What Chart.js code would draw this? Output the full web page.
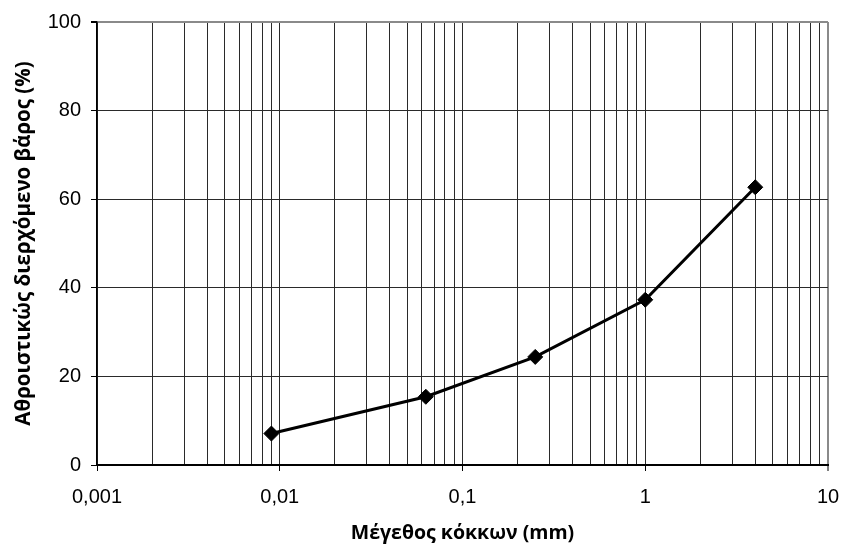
<!DOCTYPE html>
<html lang="el">
<head>
<meta charset="utf-8">
<title>Κοκκομετρική καμπύλη</title>
<script src="https://cdn.jsdelivr.net/npm/chart.js@4/dist/chart.umd.min.js"></script>
<style>
  html, body { margin: 0; padding: 0; background: #fff; }
  #chart-granulo { display: block; }
</style>
</head>
<body>
<canvas id="chart-granulo" width="844" height="549"></canvas>
<script>
// diámetros de los tamices (mm) y % que pasa acumulado
const diametros = [0.009, 0.063, 0.25, 1, 4];
const porcentajes = [7.1, 15.4, 24.4, 37.3, 62.7];

// marcas del eje x (escala log) y sus textos
const decadas = [0.001, 0.01, 0.1, 1, 10];
const etiquetasX = ["0,001", "0,01", "0,1", "1", "10"];
const ticksY = [0, 20, 40, 60, 80, 100];

const tituloX = "Μέγεθος κόκκων (mm)";
const tituloY = "Αθροιστικώς διερχόμενο βάρος (%)";

var granuloInstance;

document.addEventListener("DOMContentLoaded", function () {
  chartGranulo();
});

function esDecada(valor) {
  return decadas.findIndex((d) => Math.abs(d - valor) / d < 1e-9);
}

// lineas menores 1..9 de cada decada
function ticksLog() {
  const lista = [];
  for (let i = 0; i < decadas.length - 1; i++) {
    for (let m = 1; m <= 9; m++) {
      lista.push({ value: decadas[i] * m });
    }
  }
  lista.push({ value: decadas[decadas.length - 1] });
  return lista;
}

function chartGranulo() {
  const ctx = document.getElementById("chart-granulo").getContext("2d");
  if (granuloInstance) {
    granuloInstance.destroy();
  }
  const fuente = "'Liberation Sans', Arial, sans-serif";
  const fuenteTitulo = "'Open Sans', 'Noto Sans', sans-serif";
  granuloInstance = new Chart(ctx, {
    type: "line",
    data: {
      datasets: [
        {
          data: diametros.map((d, i) => ({ x: d, y: porcentajes[i] })),
          borderColor: "#000",
          borderWidth: 3,
          backgroundColor: "#000",
          pointStyle: "rectRot",
          pointRadius: 7.5,
          pointBorderWidth: 1,
          pointBackgroundColor: "#000",
          pointBorderColor: "#000",
          tension: 0,
        },
      ],
    },
    options: {
      responsive: false,
      animation: false,
      devicePixelRatio: 1,
      layout: { padding: { left: 0, right: 16, top: 21, bottom: 0 } },
      plugins: {
        legend: { display: false },
        tooltip: { enabled: false },
      },
      scales: {
        x: {
          type: "logarithmic",
          min: 0.001,
          max: 10,
          afterBuildTicks: (scale) => {
            scale.ticks = ticksLog();
          },
          afterFit: (scale) => {
            scale.height = 84;
            // el margen lo da layout.padding
            scale.paddingLeft = 0;
            scale.paddingRight = 0;
          },
          ticks: {
            autoSkip: false,
            maxRotation: 0,
            padding: 14,
            color: "#000",
            font: { family: fuente, size: 20 },
            callback: (valor) => {
              const i = esDecada(valor);
              return i >= 0 ? etiquetasX[i] : "";
            },
          },
          grid: {
            color: (c) => (c.tick && c.tick.value === 10 ? "#8a8a8a" : "#2a2a2a"),
            lineWidth: (c) => (c.tick && c.tick.value === 10 ? 2 : 1),
            tickLength: 6,
            tickColor: (c) => (c.tick && esDecada(c.tick.value) >= 0 ? "#000" : "rgba(0,0,0,0)"),
            tickWidth: 1,
          },
          border: { color: "#000", width: 2 },
          title: {
            display: true,
            text: tituloX,
            color: "#000",
            font: { family: fuenteTitulo, size: 19.5, weight: "bold" },
            padding: { top: 3, bottom: 4 },
          },
        },
        y: {
          min: 0,
          max: 100,
          afterBuildTicks: (scale) => {
            scale.ticks = ticksY.map((v) => ({ value: v }));
          },
          afterFit: (scale) => {
            scale.width = 97;
          },
          ticks: {
            padding: 10,
            color: "#000",
            font: { family: fuente, size: 20 },
          },
          grid: {
            color: (c) => (c.tick && c.tick.value === 100 ? "#8a8a8a" : "#2a2a2a"),
            lineWidth: (c) => (c.tick && c.tick.value === 100 ? 2 : 1),
            tickLength: 6,
            tickColor: "#000",
          },
          border: { color: "#000", width: 1.5 },
          title: {
            display: true,
            text: tituloY,
            color: "#000",
            font: { family: fuenteTitulo, size: 20.5, weight: "bold" },
            padding: { top: 12, bottom: 4 },
          },
        },
      },
    },
  });
}
</script>
</body>
</html>
